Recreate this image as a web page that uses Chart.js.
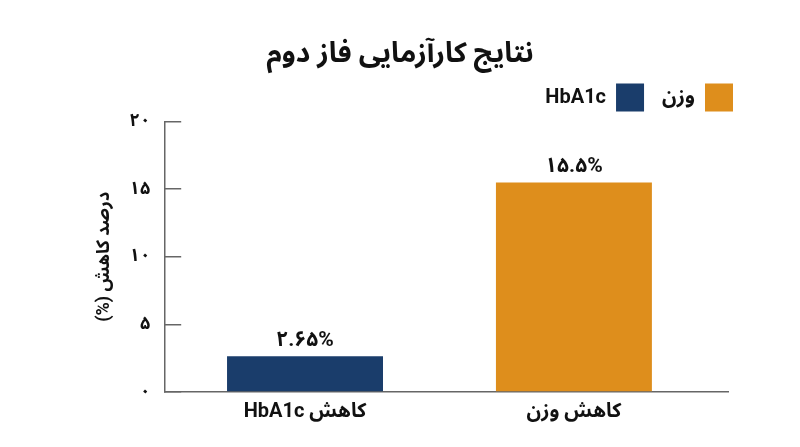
<!DOCTYPE html>
<html>
<head>
<meta charset="utf-8">
<script src="https://cdn.jsdelivr.net/npm/chart.js@4.4.1/dist/chart.umd.min.js"></script>
<style>
  html, body { margin: 0; padding: 0; background: #ffffff; }
  #wrap { width: 800px; height: 447px; }
</style>
</head>
<body>
<div id="wrap"><canvas id="c" dir="rtl" width="800" height="447"></canvas></div>
<script>
// ---- data ----
const chartTitle = 'نتایج کارآزمایی فاز دوم';
const yAxisTitle = 'درصد کاهش (%)';
const categories = ['کاهش HbA1c', 'کاهش وزن'];
const seriesNames = ['وزن', 'HbA1c'];
const weightValues = [null, 15.5];
const hba1cValues = [2.65, null];
const valueLabels = ['۲.۶۵%', '۱۵.۵%'];
const yTickLabels = ['۰', '۵', '۱۰', '۱۵', '۲۰'];

const BLUE = '#1a3d6b';
const ORANGE = '#de8e1c';
const FONT = 'Roboto, "Noto Sans Arabic", "DejaVu Sans", sans-serif';

function toPoints(values) {
  return values.map((v, i) => (v === null ? null : { x: i, y: v })).filter(Boolean);
}

const valueLabelPlugin = {
  id: 'valueLabels',
  afterDatasetsDraw(chart) {
    const ctx = chart.ctx;
    ctx.save();
    ctx.font = 'bold 21px ' + FONT;
    ctx.fillStyle = '#111111';
    ctx.textAlign = 'center';
    ctx.textBaseline = 'bottom';
    chart.data.datasets.forEach((ds, di) => {
      const meta = chart.getDatasetMeta(di);
      meta.data.forEach((el, j) => {
        const idx = ds.data[j].x;
        ctx.fillText(valueLabels[idx], el.x, el.y - 5);
      });
    });
    ctx.restore();
  }
};

new Chart(document.getElementById('c'), {
  type: 'bar',
  data: {
    datasets: [
      { label: seriesNames[0], data: toPoints(weightValues), backgroundColor: ORANGE, borderWidth: 0 },
      { label: seriesNames[1], data: toPoints(hba1cValues), backgroundColor: BLUE, borderWidth: 0 }
    ]
  },
  plugins: [valueLabelPlugin],
  options: {
    responsive: false,
    animation: false,
    devicePixelRatio: 1,
    categoryPercentage: 1,
    barPercentage: 0.58,
    layout: { padding: { left: 49, right: 49, top: 0, bottom: 15 } },
    plugins: {
      title: {
        display: true,
        text: chartTitle,
        color: '#111111',
        font: { family: FONT, size: 28, weight: 'bold' },
        padding: { top: 38, bottom: -6 }
      },
      legend: {
        display: true,
        position: 'top',
        align: 'start',
        rtl: true,
        textDirection: 'rtl',
        labels: {
          boxWidth: 28,
          boxHeight: 28,
          padding: 18,
          color: '#111111',
          font: { family: FONT, size: 20, weight: 'bold' }
        }
      },
      tooltip: { enabled: false }
    },
    scales: {
      x: {
        type: 'linear',
        offset: false,
        stacked: true,
        min: -0.52,
        max: 1.573,
        afterBuildTicks: (scale) => { scale.ticks = categories.map((_, i) => ({ value: i })); },
        grid: { display: false, drawTicks: false },
        border: { display: true, color: '#666666', width: 1.5 },
        ticks: {
          padding: 8,
          color: '#111111',
          font: { family: FONT, size: 20, weight: 'bold' },
          callback: (v) => categories[v]
        }
      },
      y: {
        stacked: true,
        min: 0,
        max: 20,
        ticks: {
          stepSize: 5,
          padding: 31,
          color: '#111111',
          font: { family: FONT, size: 18, weight: 'bold' },
          callback: (v, i) => yTickLabels[i]
        },
        grid: { drawOnChartArea: false, drawTicks: true, tickLength: -16, color: '#666666', lineWidth: 1.5 },
        border: { display: true, color: '#666666', width: 1.5 },
        title: {
          display: true,
          text: yAxisTitle,
          color: '#111111',
          font: { family: FONT, size: 18, weight: 'bold' },
          padding: { top: 45, bottom: -17 }
        }
      },
      yPad: {
        position: 'right',
        display: true,
        grid: { display: false, drawTicks: false },
        border: { display: false },
        ticks: { display: false },
        afterFit: (scale) => { scale.width = 23; }
      }
    }
  }
});
</script>
</body>
</html>
